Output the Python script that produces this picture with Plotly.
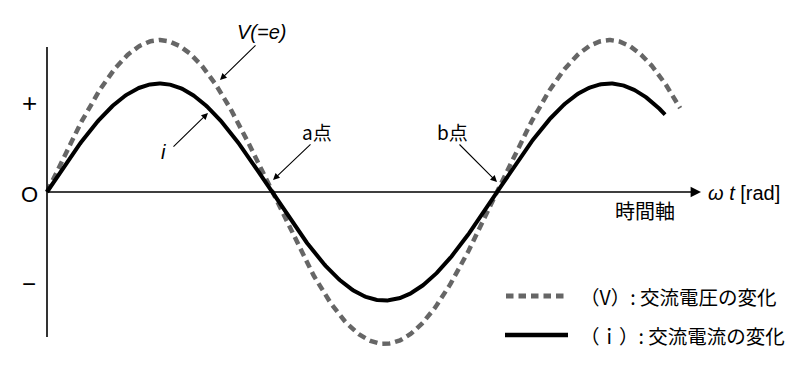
import numpy as np
import plotly.graph_objects as go

# ---- data ----
V_AMPLITUDE = 1.40          # peak of voltage (relative to current peak = 1)
I_AMPLITUDE = 1.00
V_END_ANGLE = 8.84          # rad, where the dashed curve stops
I_END_ANGLE = 8.63          # rad, where the solid curve stops
y_tick_labels = ["+", "O", "−"]
y_tick_values = [0.82, -0.02, -0.84]
y_tick_sizes = [26, 22, 24]
point_labels = ["a点", "b点"]
point_angles = [np.pi, 2 * np.pi]
legend_labels = ["（V）: 交流電圧の変化", "（ｉ）: 交流電流の変化"]

# ---- pixel mapping helpers (for layout placement) ----
W, H = 800, 367
X0, Y0 = 47, 192
KX = 450 / (2 * np.pi)   # px per rad
KY = 108.5               # px per unit
def X(px): return (px - X0) / KX
def Y(py): return (Y0 - py) / KY

FONT = "Noto Sans CJK JP, Noto Sans, sans-serif"
LATIN = "Liberation Sans, Arial, sans-serif"

theta_v = np.linspace(0, V_END_ANGLE, 600)
theta_i = np.linspace(0, I_END_ANGLE, 600)
v = V_AMPLITUDE * np.sin(theta_v)
i = I_AMPLITUDE * np.sin(theta_i)

DASH_COLOR = "#666666"

fig = go.Figure()
fig.add_trace(go.Scatter(x=theta_v, y=v, mode="lines",
                         line=dict(color=DASH_COLOR, width=4.5, dash="8px,5px"),
                         hoverinfo="skip", showlegend=False))
fig.add_trace(go.Scatter(x=theta_i, y=i, mode="lines",
                         line=dict(color="#000000", width=4),
                         hoverinfo="skip", showlegend=False))

# legend samples
fig.add_trace(go.Scatter(x=[X(506), X(565)], y=[Y(296), Y(296)], mode="lines",
                         line=dict(color=DASH_COLOR, width=5, dash="7.5px,5px"),
                         hoverinfo="skip", showlegend=False))
fig.add_trace(go.Scatter(x=[X(505), X(568)], y=[Y(335), Y(335)], mode="lines",
                         line=dict(color="#000000", width=4.5),
                         hoverinfo="skip", showlegend=False))

shapes = [
    dict(type="line", x0=0, x1=0, y0=Y(47), y1=Y(337),
         line=dict(color="black", width=1.6)),
]

ann = []
# x axis with arrow
ann.append(dict(x=X(701), y=0, ax=X(47), ay=0, xref="x", yref="y", axref="x", ayref="y",
                showarrow=True, arrowhead=2, arrowsize=1.3, arrowwidth=1.6,
                arrowcolor="black", text=""))
# y tick labels
for lab, val, sz in zip(y_tick_labels, y_tick_values, y_tick_sizes):
    ann.append(dict(x=X(29), y=val, text=lab, showarrow=False,
                    font=dict(size=sz, color="black", family=LATIN),
                    xanchor="center", yanchor="middle"))
# axis labels
ann.append(dict(x=X(706), y=Y(193), text="<i>ω t</i> [rad]", showarrow=False,
                xanchor="left", yanchor="middle",
                font=dict(size=20, color="black", family=LATIN)))
ann.append(dict(x=X(645), y=Y(210), text="時間軸", showarrow=False,
                xanchor="center", yanchor="middle",
                font=dict(size=20, color="black", family=FONT)))
# curve labels
ann.append(dict(x=X(220), y=Y(80), ax=X(257), ay=Y(44), xref="x", yref="y",
                axref="x", ayref="y", text="", showarrow=True, arrowhead=2,
                arrowsize=1.2, arrowwidth=1.1, arrowcolor="black"))
ann.append(dict(x=X(261), y=Y(32), text="<i>V(=e)</i>", showarrow=False,
                font=dict(size=20, color="black", family=LATIN)))
ann.append(dict(x=X(208), y=Y(113), ax=X(172), ay=Y(148), xref="x", yref="y",
                axref="x", ayref="y", text="", showarrow=True, arrowhead=2,
                arrowsize=1.2, arrowwidth=1.1, arrowcolor="black"))
ann.append(dict(x=X(163), y=Y(152), text="<i>i</i>", showarrow=False,
                font=dict(size=20, color="black", family=LATIN)))
# a / b points
label_px = [(317, 131, 312, 143, 273, 180), (452, 131, 458, 143, 497, 182)]
for lab, ang, (tx, ty, sx, sy, ex, ey) in zip(point_labels, point_angles, label_px):
    ann.append(dict(x=X(ex), y=Y(ey), ax=X(sx), ay=Y(sy), xref="x", yref="y",
                    axref="x", ayref="y", text="", showarrow=True, arrowhead=2,
                    arrowsize=1.2, arrowwidth=1.1, arrowcolor="black"))
    ann.append(dict(x=X(tx), y=Y(ty), text=lab, showarrow=False,
                    font=dict(size=19, color="black", family=FONT)))
# legend text
for lab, py in zip(legend_labels, [296, 335]):
    ann.append(dict(x=X(578), y=Y(py), text=lab, showarrow=False,
                    xanchor="left", yanchor="middle",
                    font=dict(size=19.5, color="black", family=FONT)))

fig.update_layout(
    width=W, height=H, margin=dict(l=0, r=0, t=0, b=0),
    paper_bgcolor="white", plot_bgcolor="white",
    xaxis=dict(range=[X(0), X(W)], visible=False, fixedrange=True),
    yaxis=dict(range=[Y(H), Y(0)], visible=False, fixedrange=True),
    shapes=shapes, annotations=ann, showlegend=False,
)
fig.write_html("out.html")
